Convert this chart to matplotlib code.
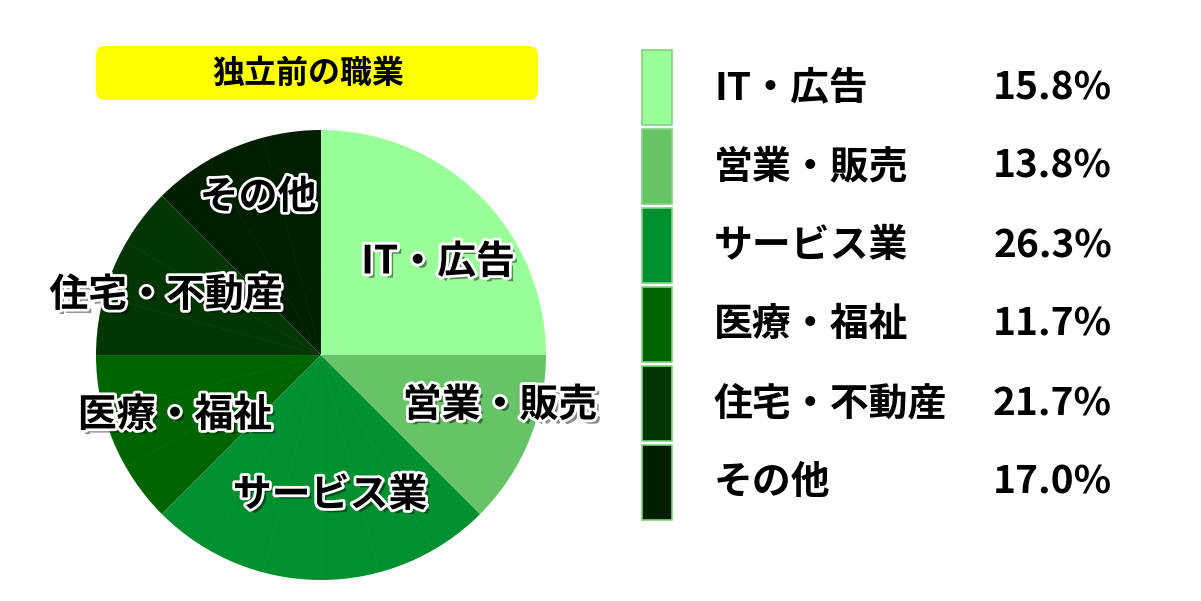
import matplotlib
matplotlib.use("Agg")
import matplotlib.pyplot as plt
import matplotlib.patheffects as pe
from matplotlib.patches import FancyBboxPatch, Rectangle
import numpy as np

plt.rcParams['font.family'] = ['Noto Sans CJK JP', 'DejaVu Sans']

title = "独立前の職業"
categories = ["IT・広告", "営業・販売", "サービス業", "医療・福祉", "住宅・不動産", "その他"]
shares = [15.8, 13.8, 26.3, 11.7, 21.7, 17.0]
# how many 15-degree segments each category fills in the drawn pie
segments = [6, 3, 6, 3, 3, 3]
colors = ["#99ff99", "#66c466", "#009030", "#006400", "#043604", "#001f00"]

W, H = 1201, 601
fig = plt.figure(figsize=(W / 100, H / 100), dpi=100)

# pie: centre (321, 355) px, radius 225 px
cx, cy, r = 321, 355, 225
pax = fig.add_axes([(cx - r) / W, (H - cy - r) / H, 2 * r / W, 2 * r / H])
pax.pie(segments, colors=colors, startangle=90, counterclock=False, radius=1,
        wedgeprops=dict(linewidth=0))
# faint dotted seams between the small segments, as in the source image
n_seg = int(np.sum(segments))
for k in range(n_seg):
    ang = np.deg2rad(90 - k * 360 / n_seg)
    pax.plot([0, np.cos(ang)], [0, np.sin(ang)], color="white", alpha=0.09,
             linewidth=0.7, linestyle=":")
pax.set_xlim(-1, 1)
pax.set_ylim(-1, 1)
pax.set_aspect("equal")
pax.axis("off")

# overlay in pixel coordinates for the boxes and texts
ov = fig.add_axes([0, 0, 1, 1])
ov.set_xlim(0, W)
ov.set_ylim(H, 0)
ov.axis("off")

ov.add_patch(FancyBboxPatch((96, 46), 442, 54, boxstyle="round,pad=0,rounding_size=9",
                            facecolor="#ffff00", edgecolor="none"))
ov.text(308, 74, title, ha="center", va="center", fontsize=23, fontweight="bold")

outline = [pe.SimplePatchShadow(offset=(3, -3), shadow_rgbFace="black", alpha=0.45),
           pe.Stroke(linewidth=4, foreground="white"), pe.Normal()]
label_pos = [(438, 262), (500, 405), (330, 495), (175, 415), (166, 295), (258, 197)]
for name, (x, y) in zip(categories, label_pos):
    ov.text(x, y, name, ha="center", va="center", fontsize=28, fontweight="bold",
            color="black", path_effects=outline)

# legend
top, pitch, box_h = 50, 79, 75
for i, (name, val, col) in enumerate(zip(categories, shares, colors)):
    y0 = top + i * pitch
    ov.add_patch(Rectangle((642, y0), 30, box_h, facecolor=col, edgecolor="#7fd67f", linewidth=1.2))
    yc = y0 + box_h / 2
    ov.text(714, yc, name, ha="left", va="center", fontsize=28, fontweight="bold")
    ov.text(1112, yc, f"{val:.1f}%", ha="right", va="center", fontsize=28, fontweight="bold")

fig.savefig("out.png", dpi=100)
